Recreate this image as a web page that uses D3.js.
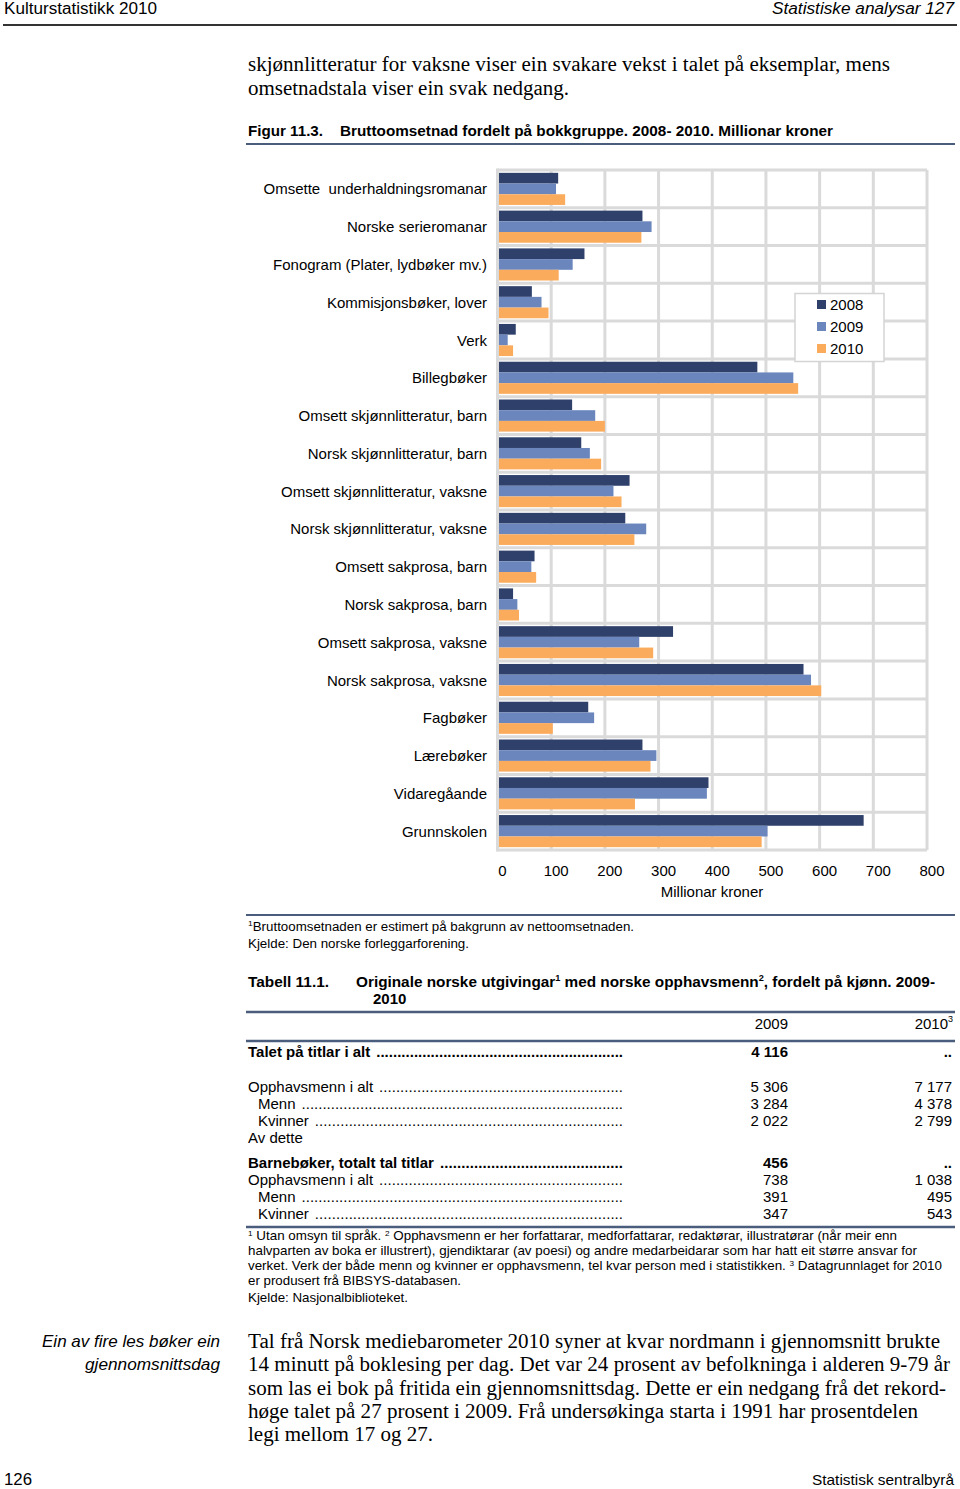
<!DOCTYPE html>
<html><head><meta charset="utf-8">
<script src="https://cdn.jsdelivr.net/npm/d3@7"></script>
<style>
html,body{margin:0;padding:0;background:#fff;}
svg{display:block;}
</style></head>
<body>
<svg id="page" width="960" height="1489"></svg>
<script>
// ---------- DATA ----------
const categories = [
  "Omsette  underhaldningsromanar",
  "Norske serieromanar",
  "Fonogram (Plater, lydbøker mv.)",
  "Kommisjonsbøker, lover",
  "Verk",
  "Billegbøker",
  "Omsett skjønnlitteratur, barn",
  "Norsk skjønnlitteratur, barn",
  "Omsett skjønnlitteratur, vaksne",
  "Norsk skjønnlitteratur, vaksne",
  "Omsett sakprosa, barn",
  "Norsk sakprosa, barn",
  "Omsett sakprosa, vaksne",
  "Norsk sakprosa, vaksne",
  "Fagbøker",
  "Lærebøker",
  "Vidaregåande",
  "Grunnskolen"
];
const years = ["2008", "2009", "2010"];
const values2008 = [113, 270, 162, 64, 34, 484, 139, 156, 246, 238, 69, 29, 327, 570, 169, 270, 393, 682];
const values2009 = [109, 287, 140, 82, 19, 551, 182, 172, 216, 277, 63, 37, 264, 584, 180, 296, 390, 503];
const values2010 = [126, 268, 114, 95, 29, 560, 200, 193, 231, 255, 72, 40, 290, 603, 103, 285, 256, 492];
const xTicks = [0, 100, 200, 300, 400, 500, 600, 700, 800];

const tableLabels = ["Talet på titlar i alt", "Opphavsmenn i alt", "Menn", "Kvinner", "Av dette",
                     "Barnebøker, totalt tal titlar", "Opphavsmenn i alt", "Menn", "Kvinner"];
const table2009 = ["4 116", "5 306", "3 284", "2 022", "", "456", "738", "391", "347"];
const table2010 = ["..", "7 177", "4 378", "2 799", "", "..", "1 038", "495", "543"];

// ---------- STYLE ----------
const SANS = "'Liberation Sans', Arial, sans-serif";
const NARROW = "'Liberation Sans Narrow', 'Arial Narrow', 'Liberation Sans', sans-serif";
const SERIF = "'Liberation Serif', 'Times New Roman', serif";
const colors = {"2008": "#2f416b", "2009": "#6a86bd", "2010": "#fbab5c"};
const gridColor = "#dadada";
const ruleColor = "#4b5d7d";

const svg = d3.select("#page");

function txt(x, y, s, o = {}) {
  const t = svg.append("text")
    .attr("x", x).attr("y", y)
    .attr("font-family", o.family || SANS)
    .attr("font-size", o.size || 15)
    .attr("fill", o.fill || "#000")
    .attr("text-anchor", o.anchor || "start")
    .text(s);
  if (o.weight) t.attr("font-weight", o.weight);
  if (o.style) t.attr("font-style", o.style);
  if (o.len) t.attr("textLength", o.len).attr("lengthAdjust", "spacingAndGlyphs");
  return t;
}
function rule(x1, x2, y, w, c) {
  svg.append("line").attr("x1", x1).attr("x2", x2).attr("y1", y).attr("y2", y)
    .attr("stroke", c || ruleColor).attr("stroke-width", w || 2);
}

// ---------- HEADER ----------
txt(4, 14, "Kulturstatistikk 2010", {size: 16, len: 153});
txt(954, 14, "Statistiske analysar 127", {size: 16, style: "italic", anchor: "end", len: 182});
rule(3, 957, 25, 2, "#333");

txt(248, 71, "skjønnlitteratur for vaksne viser ein svakare vekst i talet på eksemplar, mens", {family: SERIF, size: 20, len: 642});
txt(248, 95, "omsetnadstala viser ein svak nedgang.", {family: SERIF, size: 20, len: 321});

txt(248, 136, "Figur 11.3.", {family: NARROW, size: 15, weight: "bold", len: 75});
txt(340, 136, "Bruttoomsetnad fordelt på bokkgruppe. 2008- 2010. Millionar kroner", {family: NARROW, size: 15, weight: "bold", len: 493});
rule(246, 955, 144, 2);

// ---------- CHART ----------
const plot = {left: 497.5, right: 927, top: 170, bottom: 850};
const x = d3.scaleLinear().domain([0, 800]).range([plot.left, plot.right]);
const y = d3.scaleBand().domain(categories).range([plot.top, plot.bottom]).paddingInner(0.15).paddingOuter(0.075);
const rowBand = d3.scaleBand().domain(categories).range([plot.top, plot.bottom]);
const yInner = d3.scaleBand().domain(years).range([0, y.bandwidth()]);

const g = svg.append("g");
g.selectAll("line.vg").data(xTicks).join("line")
  .attr("x1", d => x(d)).attr("x2", d => x(d))
  .attr("y1", plot.top).attr("y2", plot.bottom)
  .attr("stroke", gridColor).attr("stroke-width", 3);
g.selectAll("line.hg").data(categories).join("line")
  .attr("x1", plot.left).attr("x2", plot.right)
  .attr("y1", d => rowBand(d)).attr("y2", d => rowBand(d))
  .attr("stroke", gridColor).attr("stroke-width", 3);
g.append("line").attr("x1", plot.left).attr("x2", plot.right)
  .attr("y1", plot.bottom).attr("y2", plot.bottom)
  .attr("stroke", gridColor).attr("stroke-width", 3);

const series = {"2008": values2008, "2009": values2009, "2010": values2010};
years.forEach(yr => {
  g.selectAll("rect.b" + yr).data(categories).join("rect")
    .attr("x", x(0))
    .attr("y", (d) => y(d) + yInner(yr))
    .attr("width", (d, i) => x(series[yr][i]) - x(0))
    .attr("height", yInner.bandwidth())
    .attr("fill", colors[yr]);
});
g.append("line").attr("x1", plot.left).attr("x2", plot.left)
  .attr("y1", plot.top - 1.5).attr("y2", plot.bottom + 1.5)
  .attr("stroke", gridColor).attr("stroke-width", 3);

g.selectAll("text.cat").data(categories).join("text")
  .attr("x", 487)
  .attr("y", d => rowBand(d) + rowBand.bandwidth() / 2 + 5.5)
  .attr("text-anchor", "end")
  .attr("font-family", SANS).attr("font-size", 15)
  .style("white-space", "pre")
  .text(d => d);

const axis = d3.axisBottom(x).tickValues(xTicks).tickSize(0).tickPadding(0);
const ax = svg.append("g").attr("transform", `translate(4.5, ${plot.bottom})`).call(axis);
ax.select(".domain").remove();
ax.selectAll("text").attr("font-family", SANS).attr("font-size", 15).attr("fill", "#000")
  .attr("dy", null).attr("y", 26);
txt(712, 897, "Millionar kroner", {size: 15, anchor: "middle"});

const lg = svg.append("g");
lg.append("rect").attr("x", 795).attr("y", 293.5).attr("width", 89).attr("height", 68)
  .attr("fill", "#fff").attr("stroke", "#d4d4d4").attr("stroke-width", 1.5);
years.forEach((yr, i) => {
  lg.append("rect").attr("x", 817).attr("y", 300 + i * 22).attr("width", 9).attr("height", 9).attr("fill", colors[yr]);
  txt(830, 310 + i * 22, yr, {size: 15});
});

// figure notes
rule(246, 955, 915, 2);
const fn = txt(248, 931, "", {size: 12.5});
fn.append("tspan").attr("font-size", 8).attr("dy", -5).text("1");
fn.append("tspan").attr("dy", 5).text("Bruttoomsetnaden er estimert på bakgrunn av nettoomsetnaden.");
fn.attr("textLength", 386).attr("lengthAdjust", "spacingAndGlyphs");
txt(248, 948, "Kjelde: Den norske forleggarforening.", {size: 12.5, len: 221});

// ---------- TABLE ----------
txt(248, 987, "Tabell 11.1.", {family: NARROW, size: 15, weight: "bold", len: 81});
const tt = txt(356, 987, "", {family: NARROW, size: 15, weight: "bold"});
tt.append("tspan").text("Originale norske utgivingar");
tt.append("tspan").attr("font-size", 9).attr("dy", -6).text("1");
tt.append("tspan").attr("dy", 6).text(" med norske opphavsmenn");
tt.append("tspan").attr("font-size", 9).attr("dy", -6).text("2");
tt.append("tspan").attr("dy", 6).text(", fordelt på kjønn. 2009-");
tt.attr("textLength", 579).attr("lengthAdjust", "spacingAndGlyphs");
txt(373, 1004, "2010", {family: NARROW, size: 15, weight: "bold"});
rule(246, 955, 1012, 2.5);
txt(788, 1029, "2009", {family: NARROW, size: 15, anchor: "end"});
txt(948, 1029, "2010", {family: NARROW, size: 15, anchor: "end"});
txt(953, 1022, "3", {family: NARROW, size: 9, anchor: "end"});
rule(246, 955, 1041, 2.5);

const rowY = [1057, 1092, 1109, 1126, 1143, 1168, 1185, 1202, 1219];
const rowBold = [true, false, false, false, false, true, false, false, false];
const rowIndent = [0, 0, 10, 10, 0, 0, 0, 10, 10];
tableLabels.forEach((lab, i) => {
  const o = {family: NARROW, size: 15, weight: rowBold[i] ? "bold" : null};
  const t = txt(248 + rowIndent[i], rowY[i], lab, o);
  if (lab !== "Av dette") {
    const end = 248 + rowIndent[i] + t.node().getComputedTextLength() + 6;
    const dotsT = txt(end, rowY[i], ".", o);
    const dw = dotsT.node().getComputedTextLength();
    const n = Math.max(1, Math.floor((623 - end) / dw));
    dotsT.text(".".repeat(n)).attr("textLength", 623 - end).attr("lengthAdjust", "spacing");
  }
  txt(788, rowY[i], table2009[i], Object.assign({}, o, {anchor: "end"}));
  txt(952, rowY[i], table2010[i], Object.assign({}, o, {anchor: "end"}));
});
rule(246, 955, 1227, 2.5);

function noteLine(yy, parts, len) {
  const t = txt(248, yy, "", {family: NARROW, size: 13});
  parts.forEach(p => {
    if (p.sup) t.append("tspan").attr("font-size", 8).attr("dy", -4).text(p.s);
    else t.append("tspan").attr("dy", p.after ? 4 : 0).text(p.s);
  });
  if (len) t.attr("textLength", len).attr("lengthAdjust", "spacingAndGlyphs");
  return t;
}
noteLine(1240, [{s: "1", sup: true}, {s: " Utan omsyn til språk. ", after: true}, {s: "2", sup: true}, {s: " Opphavsmenn er her forfattarar, medforfattarar, redaktørar, illustratørar (når meir enn", after: true}], 649);
noteLine(1255, [{s: "halvparten av boka er illustrert), gjendiktarar (av poesi) og andre medarbeidarar som har hatt eit større ansvar for"}], 669);
noteLine(1270, [{s: "verket. Verk der både menn og kvinner er opphavsmenn, tel kvar person med i statistikken. "}, {s: "3", sup: true}, {s: " Datagrunnlaget for 2010", after: true}], 694);
noteLine(1285, [{s: "er produsert frå BIBSYS-databasen."}], 213);
noteLine(1302, [{s: "Kjelde: Nasjonalbiblioteket."}], 160);

// ---------- BODY TEXT ----------
txt(220, 1347, "Ein av fire les bøker ein", {size: 17, style: "italic", anchor: "end", len: 178});
txt(220, 1370, "gjennomsnittsdag", {size: 17, style: "italic", anchor: "end", len: 135});

const bodyLines = [
  ["Tal frå Norsk mediebarometer 2010 syner at kvar nordmann i gjennomsnitt brukte", 692],
  ["14 minutt på boklesing per dag. Det var 24 prosent av befolkninga i alderen 9-79 år", 702],
  ["som las ei bok på fritida ein gjennomsnittsdag. Dette er ein nedgang frå det rekord-", 698],
  ["høge talet på 27 prosent i 2009. Frå undersøkinga starta i 1991 har prosentdelen", 670],
  ["legi mellom 17 og 27.", 185]
];
bodyLines.forEach((l, i) => txt(248, 1348 + i * 23.3, l[0], {family: SERIF, size: 20, len: l[1]}));

txt(4, 1485, "126", {size: 16, len: 28});
txt(954, 1485, "Statistisk sentralbyrå", {size: 15, anchor: "end", len: 142});
</script>
</body></html>
